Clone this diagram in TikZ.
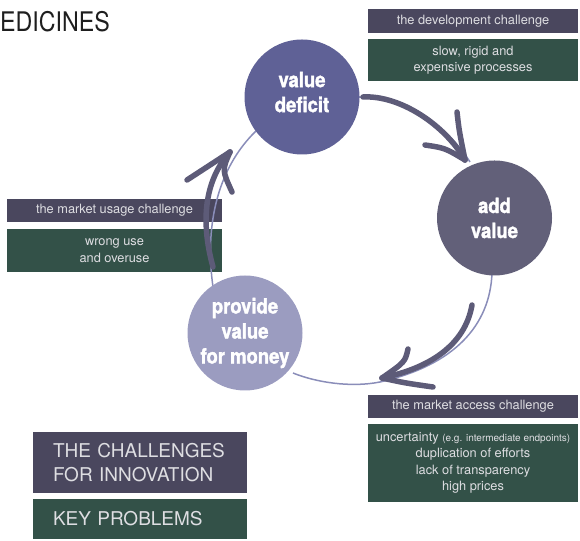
\documentclass[tikz,border=0pt]{standalone}
\usepackage{graphicx}
\usepackage{fontspec}
\setmainfont{TeX Gyre Heros}
\newfontfamily\circfont{texgyreheros-bold.otf}[FakeStretch=0.88,FakeBold=1.6]
\definecolor{hdrc}{RGB}{74,71,94}
\definecolor{probc}{RGB}{51,81,72}
\definecolor{vdc}{RGB}{95,97,150}
\definecolor{avc}{RGB}{98,96,121}
\definecolor{pvc}{RGB}{155,156,192}
\definecolor{arrc}{RGB}{93,91,120}
\definecolor{thinc}{RGB}{138,141,185}
\definecolor{txtc}{RGB}{222,222,226}
\definecolor{titlec}{RGB}{30,30,30}
\begin{document}
\begin{tikzpicture}[x=1pt,y=1pt,
  hdr/.style={fill=hdrc, text=txtc, inner sep=0pt, minimum width=210pt, minimum height=24pt,
    font=\fontsize{12.8}{16}\selectfont, align=center},
  prob/.style={fill=probc, text=txtc, inner sep=0pt, minimum width=210pt,
    font=\fontsize{12.8}{16.5}\selectfont, align=center},
  legbox/.style={inner xsep=20pt, inner ysep=0pt, text width=174pt, align=left, text=txtc,
    font=\fontsize{19}{24}\selectfont},
  circnode/.style={circle, inner sep=0pt, minimum size=115pt, text=white, align=center,
    font=\circfont\fontsize{21}{25}\selectfont},
  thinline/.style={draw=thinc, line width=1.5pt},
  thickline/.style={draw=arrc, line width=5.5pt, line cap=round, line join=round}
]
\useasboundingbox (0,0) rectangle (580,540);

% title
\node[anchor=base west, inner sep=0pt, font=\fontsize{27}{27}\selectfont, text=titlec] (title) at (0,508)
  {\scalebox{0.86}[1]{EDICINES}};

% challenge boxes
\node[hdr] (devh) at (473,519) {the development challenge};
\node[prob, minimum height=42pt] (devp) at (473,480) {slow, rigid and\\expensive processes};
\node[hdr, minimum width=215pt, minimum height=23pt] (useh) at (114.5,329.5) {the market usage challenge};
\node[prob, minimum width=215pt, minimum height=43pt] (usep) at (114.5,289.5) {wrong use\\and overuse};
\node[hdr, minimum height=23pt] (acch) at (473,133.5) {the market access challenge};
\node[prob, minimum height=78pt] (accp) at (473,77)
  {uncertainty {\fontsize{10}{16.5}\selectfont(e.g. intermediate endpoints)}\\duplication of efforts\\lack of transparency\\high prices};

% legend
\node[legbox, fill=hdrc, minimum height=61pt] (legh) at (140,77.5) {THE CHALLENGES\\FOR INNOVATION};
\node[legbox, fill=probc, minimum height=40pt] (legp) at (140,21) {KEY PROBLEMS};

% circle node centres
\coordinate (vdc) at (302,443);
\coordinate (avc) at (494.5,322);
\coordinate (pvc) at (245,207);

% thin cycle
\draw[thinline] (vdc) ++(57,0) coordinate (t1a) .. controls (410,443) and (450,410) .. (470,378);
\draw[thinline] (492,267) .. controls (490,215) and (455,175) .. (380,158)
   .. controls (350,152) and (315,158) .. (293,167);
\draw[thinline] (213,253) .. controls (205,310) and (215,370) .. (257,410);

% nodes
\node[circnode, fill=vdc, text depth=10pt] (vd) at (vdc) {value\\deficit};
\node[circnode, fill=avc] (av) at (avc) {add\\value};
\node[circnode, fill=pvc] (pv) at (pvc) {provide\\value\\for money};

% thick arrows
\coordinate (a1s) at (363,443);
\coordinate (a1t) at (465,380);
\draw[thickline] (a1s) .. controls (400,445) and (445,415) .. (a1t);
\draw[thickline] (457,428) .. controls (459,410) .. (a1t);
\draw[thickline] (425,395) .. controls (445,392) .. (a1t);

\coordinate (a2s) at (472,235);
\coordinate (a2t) at (382,162);
\draw[thickline] (a2s) .. controls (465,195) and (430,172) .. (a2t);
\draw[thickline] (408,191) .. controls (405,178) .. (a2t);
\draw[thickline] (a2t) .. controls (405,157) .. (433,153);

\coordinate (a3s) at (213,273);
\coordinate (a3t) at (230,388);
\draw[thickline] (a3s) .. controls (200,320) and (205,360) .. (a3t);
\draw[thickline] (187,360) -- (a3t);
\draw[thickline] (a3t) .. controls (222,370) .. (232,348);
\end{tikzpicture}
\end{document}
